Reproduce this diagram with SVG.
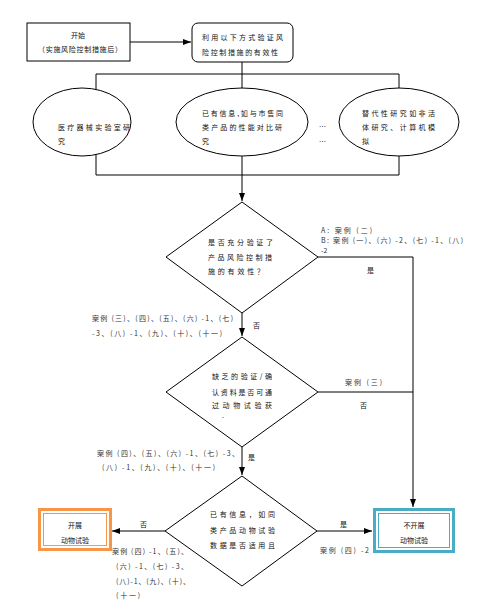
<svg xmlns="http://www.w3.org/2000/svg" width="487" height="604" viewBox="0 0 487 604">
<style>
text{font-family:"Noto Sans CJK SC","Liberation Sans",sans-serif;font-size:7px;fill:#111;}
.lbl{fill:#333;}
.c{text-anchor:middle;}
.shape{fill:#fff;stroke:#000;stroke-width:1;}
.ln{fill:none;stroke:#000;stroke-width:1;}
</style>
<defs>
<marker id="ah" viewBox="0 0 8 6" refX="8" refY="3" markerWidth="8" markerHeight="6" markerUnits="userSpaceOnUse" orient="auto">
<path d="M0,0 L8,3 L0,6 z" fill="#000"/>
</marker>
</defs>
<rect width="487" height="604" fill="#fff"/>
<g id="connectors">
<line class="ln" x1="130" y1="42" x2="191" y2="42" marker-end="url(#ah)"/>
<line class="ln" x1="242" y1="62" x2="242" y2="90"/>
<polyline class="ln" points="96,90 96,74 399,74 399,90"/>
<polyline class="ln" points="96,154 96,175 399,175 399,154"/>
<line class="ln" x1="242" y1="155" x2="242" y2="201" marker-end="url(#ah)"/>
<polyline class="ln" points="318,257 413,257 413,507" marker-end="url(#ah)"/>
<line class="ln" x1="318" y1="392" x2="413" y2="392"/>
<line class="ln" x1="242" y1="313" x2="242" y2="336" marker-end="url(#ah)"/>
<line class="ln" x1="242" y1="447" x2="242" y2="475" marker-end="url(#ah)"/>
<line class="ln" x1="165" y1="531" x2="112" y2="531" marker-end="url(#ah)"/>
<line class="ln" x1="317" y1="531" x2="372" y2="531" marker-end="url(#ah)"/>
</g>
<g id="start">
<rect class="shape" x="27" y="23" width="103" height="38"/>
<text class="c" x="78" y="38">开始</text>
<text class="c" x="80" y="52" textLength="84" lengthAdjust="spacing">（实施风险控制措施后）</text>
</g>
<g id="verify">
<rect class="shape" x="192" y="23" width="101" height="39" rx="6"/>
<text x="202" y="40" textLength="81" lengthAdjust="spacing">利用以下方式验证风</text>
<text x="202" y="55" textLength="76" lengthAdjust="spacing">险控制措施的有效性</text>
</g>
<g id="lab">
<ellipse class="shape" cx="82" cy="122" rx="49" ry="34"/>
<text x="58" y="130" textLength="72" lengthAdjust="spacing">医疗器械实验室研</text>
<text x="58" y="144">究</text>
</g>
<g id="compare">
<ellipse class="shape" cx="242" cy="122" rx="66" ry="34"/>
<text x="202" y="116" textLength="81" lengthAdjust="spacing">已有信息,如与市售同</text>
<text x="202" y="130" textLength="80" lengthAdjust="spacing">类产品的性能对比研</text>
<text x="202" y="144">究</text>
</g>
<g id="dots">
<text x="319" y="129">…</text>
<text x="319" y="144">…</text>
</g>
<g id="alt">
<ellipse class="shape" cx="399" cy="122" rx="60" ry="34"/>
<text x="362" y="116" textLength="73" lengthAdjust="spacing">替代性研究如非活</text>
<text x="362" y="130" textLength="73" lengthAdjust="spacing">体研究、计算机模</text>
<text x="362" y="144">拟</text>
</g>
<g id="d1">
<polygon class="shape" points="242,202 318,257 242,313 166,257"/>
<text x="208" y="245" textLength="65" lengthAdjust="spacing">是否充分验证了</text>
<text x="208" y="260" textLength="64" lengthAdjust="spacing">产品风险控制措</text>
<text x="208" y="274" textLength="56" lengthAdjust="spacing">施的有效性？</text>
</g>
<g id="d2">
<polygon class="shape" points="242,337 318,392 242,447 166,392"/>
<text x="212" y="379" textLength="60" lengthAdjust="spacing">缺乏的验证/确</text>
<text x="212" y="395" textLength="60" lengthAdjust="spacing">认资料是否可通</text>
<text x="212" y="408" textLength="60" lengthAdjust="spacing">过动物试验获</text>
<text x="222" y="418">.</text>
</g>
<g id="d3">
<polygon class="shape" points="242,476 317,531 242,586 165,531"/>
<text x="210" y="517" textLength="65" lengthAdjust="spacing">已有信息，如同</text>
<text x="210" y="533" textLength="65" lengthAdjust="spacing">类产品动物试验</text>
<text x="210" y="548" textLength="65" lengthAdjust="spacing">数据是否适用且</text>
</g>
<g id="do">
<rect x="39.5" y="509.5" width="71" height="40" fill="#fff" stroke="#F79646" stroke-width="3"/>
<rect x="43.5" y="513.5" width="63" height="32" fill="none" stroke="#F79646" stroke-width="1"/>
<text class="c" x="75" y="528">开展</text>
<text class="c" x="75" y="543">动物试验</text>
</g>
<g id="dont">
<rect x="374.5" y="509.5" width="79" height="42" fill="#fff" stroke="#4BACC6" stroke-width="3"/>
<rect x="378.5" y="513.5" width="71" height="34" fill="none" stroke="#4BACC6" stroke-width="1"/>
<text class="c" x="414" y="528">不开展</text>
<text class="c" x="414" y="543">动物试验</text>
</g>
<g id="labels">
<text class="lbl" x="321" y="233" textLength="51" lengthAdjust="spacing">A: 案例 (二)</text>
<text class="lbl" x="321" y="243" textLength="142" lengthAdjust="spacing">B: 案例 (一)、(六) -2、(七) -1、(八)</text>
<text class="lbl" x="321" y="253">-2</text>
<text x="367" y="273">是</text>
<text class="lbl" x="92" y="321" textLength="141" lengthAdjust="spacing">案例 (三)、(四)、(五)、(六) -1、(七)</text>
<text class="lbl" x="92" y="336" textLength="130" lengthAdjust="spacing">-3、(八) -1、(九)、(十)、(十一)</text>
<text x="253" y="328">否</text>
<text class="lbl" x="345" y="385" textLength="37" lengthAdjust="spacing">案例 (三)</text>
<text x="360" y="408">否</text>
<text x="248" y="460">是</text>
<text class="lbl" x="97" y="456" textLength="142" lengthAdjust="spacing">案例 (四)、(五)、(六) -1、(七) -3、</text>
<text class="lbl" x="102" y="470" textLength="113" lengthAdjust="spacing">(八) -1、(九)、(十)、(十一)</text>
<text x="140" y="527">否</text>
<text x="340" y="527">是</text>
<text class="lbl" x="320" y="553" textLength="49" lengthAdjust="spacing">案例 (四) -2</text>
<text class="lbl" x="112" y="554" textLength="76" lengthAdjust="spacing">案例 (四) -1、(五)、</text>
<text class="lbl" x="116" y="569" textLength="72" lengthAdjust="spacing">(六) -1、(七) -3、</text>
<text class="lbl" x="116" y="584" textLength="74" lengthAdjust="spacing">(八)-1、(九)、(十)、</text>
<text class="lbl" x="116" y="598" textLength="24" lengthAdjust="spacing">(十一)</text>
</g>
</svg>
